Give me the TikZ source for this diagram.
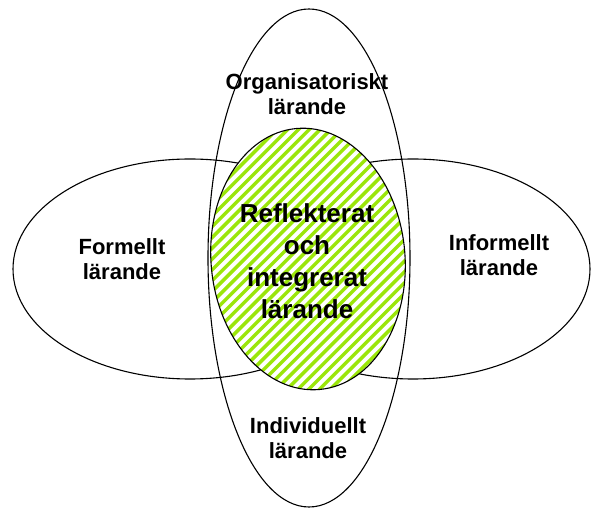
\documentclass[tikz,border=0pt]{standalone}
\usepackage{fontspec}
\setmainfont{Liberation Sans}
\definecolor{limegreen}{RGB}{155,230,10}
\begin{document}
\begin{tikzpicture}[x=1pt,y=-1pt,
  outline/.style={draw=black,line width=1.1pt},
  hatchline/.style={draw=limegreen,line width=3.4pt},
  outer/.style={align=center,inner sep=0pt,font=\bfseries\fontsize{22}{25}\selectfont},
  inner/.style={align=center,inner sep=0pt,font=\bfseries\fontsize{26}{32}\selectfont}]
\useasboundingbox[fill=white] (0,0) rectangle (598,510);
% outer ellipses
\draw[outline] (309,258) ellipse [x radius=101pt, y radius=249pt];
\draw[outline] (190,269) ellipse [x radius=177pt, y radius=110pt];
\draw[outline] (413,269) ellipse [x radius=177pt, y radius=110pt];
% central hatched ellipse
\fill[white,rotate around={5:(308,259)}] (308,259) ellipse [x radius=97pt, y radius=131pt];
\begin{scope}
  \clip[rotate around={5:(308,259)}] (308,259) ellipse [x radius=97pt, y radius=131pt];
  \foreach \k in {0,...,48} {
    \draw[hatchline] (-110+10.8*\k,430) -- ++(340,-340);
  }
\end{scope}
\draw[outline,rotate around={5:(308,259)}] (308,259) ellipse [x radius=97pt, y radius=131pt];
% labels
\node[outer] (org) at (307,94) {Organisatoriskt\\lärande};
\node[outer] (ind) at (308,438) {Individuellt\\lärande};
\node[outer] (form) at (122,259) {Formellt\\lärande};
\node[outer] (inform) at (499,255) {Informellt\\lärande};
\node[inner] (refl) at (307,261) {Reflekterat\\och\\integrerat\\lärande};
\end{tikzpicture}
\end{document}
